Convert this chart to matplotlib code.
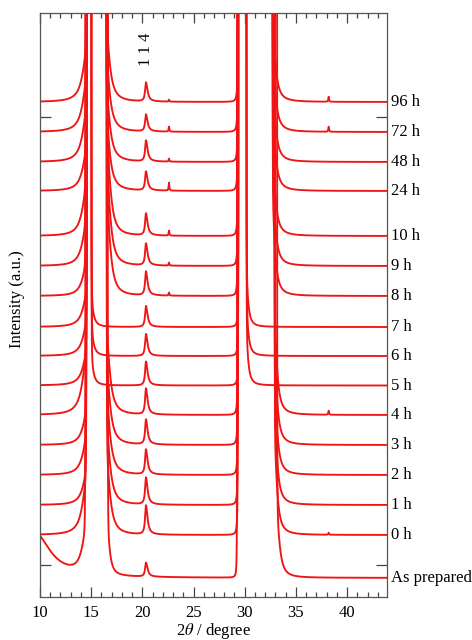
import numpy as np
import matplotlib
matplotlib.use("Agg")
import matplotlib.pyplot as plt
from matplotlib.ticker import MultipleLocator

# curves from bottom to top
labels = ["As prepared", "0 h", "1 h", "2 h", "3 h", "4 h", "5 h", "6 h", "7 h",
          "8 h", "9 h", "10 h", "24 h", "48 h", "72 h", "96 h"]
offsets = [19, 62, 92, 122, 152, 182, 211.5, 241, 270, 301, 331, 361, 406, 435, 465, 495]

# low angle strong reflection (off scale between lo and hi)
b1_lo = [14.45, 14.55, 14.55, 14.55, 14.55, 14.55, 14.6, 14.6, 14.6,
         14.5, 14.5, 14.5, 14.55, 14.55, 14.55, 14.55]
b1_hi = [16.6, 16.5, 16.5, 16.5, 16.5, 16.5, 15.0, 15.0, 15.0,
         16.6, 16.6, 16.6, 16.45, 16.45, 16.45, 16.45]
b1_rise = [35, 50, 27, 32, 27, 55, 30, 30, 30, 25, 35, 40, 35, 45, 45, 45]
b1_tail = [35, 70, 70, 70, 70, 70, 18, 18, 18, 70, 70, 70, 70, 70, 70, 70]
b1_tail_w = [0.3, 0.4, 0.4, 0.4, 0.4, 0.4, 0.3, 0.3, 0.3, 0.4, 0.4, 0.4, 0.4, 0.4, 0.4, 0.4]

# high angle strong reflection
b2_lo = [29.28, 29.35, 29.35, 29.35, 29.35, 29.35, 29.4, 29.4, 29.4,
         29.35, 29.35, 29.35, 29.35, 29.35, 29.35, 29.35]
b2_hi = [33.15, 32.9, 32.9, 32.9, 32.9, 32.9, 30.15, 30.15, 30.15,
         32.7, 32.7, 32.7, 32.7, 32.7, 32.7, 32.7]
b2_rise = [0, 5, 5, 5, 5, 5, 4, 4, 4, 5, 5, 5, 5, 5, 5, 5]
b2_tail = [50, 80, 80, 80, 80, 80, 35, 35, 35, 80, 80, 80, 80, 80, 80, 80]
b2_tail_w = [0.35, 0.3, 0.3, 0.3, 0.3, 0.3, 0.25, 0.25, 0.25, 0.3, 0.3, 0.3, 0.3, 0.3, 0.3, 0.3]

# small reflections
h114 = [14, 29, 27, 25, 25, 26, 24, 22, 21, 24, 22, 22, 19, 21, 17, 19]
h226 = [0, 0, 0, 0, 0, 0, 0, 0, 0, 3, 3, 5, 8, 3, 5, 2]
h382 = [0, 2, 0, 0, 0, 4, 0, 0, 0, 0, 0, 0, 0, 0, 5, 5]
# amorphous hump of the as prepared sample
hump = [45, 0, 0, 0, 0, 0, 0, 0, 0, 0, 0, 0, 0, 0, 0, 0]

TOP = 5000.0


def lor(x, x0, h, w):
    return h / (1.0 + ((x - x0) / w) ** 2)


def peak(x, x0, h, wl, wr):
    w = np.where(x < x0, wl, wr)
    return h / (1.0 + ((x - x0) / w) ** 2)


def band(x, lo, hi, rise, rise_w, tail, tail_w):
    y = np.full_like(x, TOP)
    left = x < lo
    right = x > hi
    y[left] = lor(x[left], lo, TOP, 0.005) + lor(x[left], lo, rise, rise_w)
    y[right] = lor(x[right], hi, TOP, 0.005) + lor(x[right], hi, tail, tail_w)
    return y


plt.rcParams['font.family'] = ['Liberation Serif', 'DejaVu Serif']
plt.rcParams['mathtext.fontset'] = 'stix'

fig = plt.figure(figsize=(4.72, 6.4), dpi=100)
ax = fig.add_axes([40 / 472, 1 - 597 / 640, 347 / 472, 584 / 640])

x = np.arange(10.0, 44.0, 0.005)
for i, lab in enumerate(labels):
    y = band(x, b1_lo[i], b1_hi[i], b1_rise[i], 0.5, b1_tail[i], b1_tail_w[i])
    y = np.minimum(y + band(x, b2_lo[i], b2_hi[i], b2_rise[i], 0.15, b2_tail[i], b2_tail_w[i]), TOP)
    y = y + peak(x, 20.35, h114[i], 0.1, 0.18)
    y = y + lor(x, 22.6, h226[i], 0.04) + lor(x, 38.2, h382[i], 0.04)
    y = y + lor(x, 9.5, hump[i], 1.8)
    ax.plot(x, y + offsets[i], color='#f01414', lw=1.35)
    ax.text(1.012, offsets[i], lab, transform=ax.get_yaxis_transform(),
            ha='left', va='center', fontsize=12)

ax.text(20.35, 548, "1 1 4", rotation=90, ha='center', va='center', fontsize=12)

ax.set_xlim(10, 43.9)
ax.set_ylim(0, 584)
ax.xaxis.set_major_locator(MultipleLocator(5))
ax.xaxis.set_minor_locator(MultipleLocator(1))
ax.set_yticks([32, 480])
ax.tick_params(axis='x', which='both', direction='in', top=True, bottom=True,
               colors='#444444', labelcolor='black', labelsize=12, pad=6)
ax.tick_params(axis='x', which='major', length=7, width=0.9)
ax.tick_params(axis='x', which='minor', length=3.5, width=0.9)
ax.tick_params(axis='y', which='major', direction='in', left=True, right=True,
               labelleft=False, length=8, width=0.9, colors='#444444')
for s in ax.spines.values():
    s.set_color('#555555')
    s.set_linewidth(0.9)

ax.set_xlabel(r"2$\theta$ / degree", fontsize=12, labelpad=0)
ax.set_ylabel("Intensity (a.u.)", fontsize=12)
ax.yaxis.set_label_coords(-0.043, 0.51)

fig.savefig("out.png", dpi=100)
